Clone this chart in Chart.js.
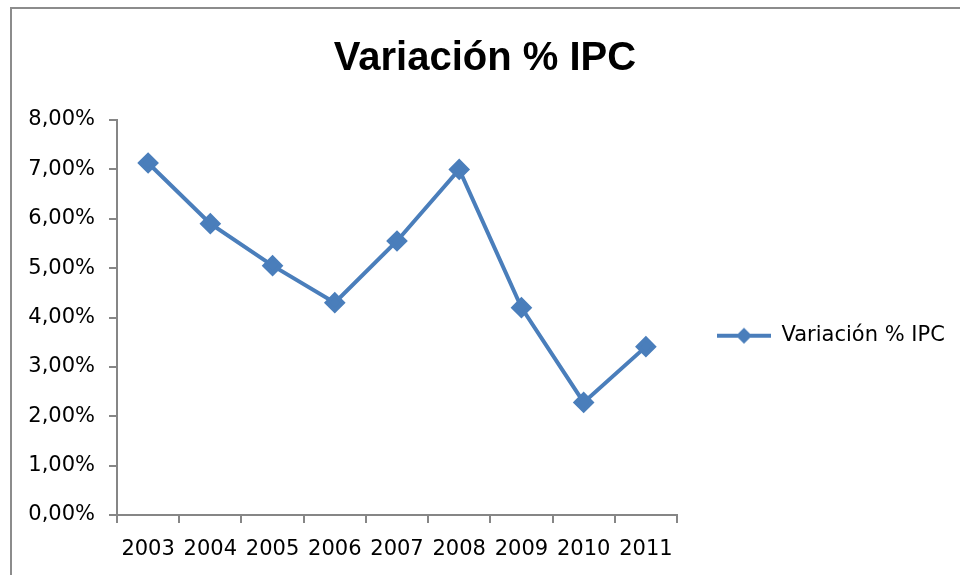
<!DOCTYPE html>
<html>
<head>
<meta charset="utf-8">
<script src="https://cdn.jsdelivr.net/npm/chart.js"></script>
<style>
  body { margin: 0; background: #fff; }
  #wrap { position: absolute; left: 0; top: 0; width: 960px; height: 575px; overflow: hidden; }
  #frame { position: absolute; left: 10px; top: 7px; width: 1000px; height: 600px;
           border-left: 2px solid #8c8c8c; border-top: 2px solid #8c8c8c; }
  canvas { position: absolute; left: 0; top: 0; }
</style>
</head>
<body>
<div id="wrap">
  <div id="frame"></div>
  <canvas id="chart1" width="960" height="575"></canvas>
</div>
<script>
// datos del grafico
const years = ['2003', '2004', '2005', '2006', '2007', '2008', '2009', '2010', '2011'];
const ipc = [7.13, 5.90, 5.05, 4.30, 5.55, 7.00, 4.20, 2.28, 3.41];
const yTicks = [0, 1, 2, 3, 4, 5, 6, 7, 8];

const azul = '#4a7ebb';
const gris = '#868686';

// icono de leyenda: linea + rombo (estilo excel)
const icon = document.createElement('canvas');
icon.width = 54; icon.height = 18;
{
  const c = icon.getContext('2d');
  c.strokeStyle = azul; c.lineWidth = 4;
  c.beginPath(); c.moveTo(0, 9); c.lineTo(54, 9); c.stroke();
  c.fillStyle = azul;
  c.beginPath(); c.moveTo(27, 1); c.lineTo(35, 9); c.lineTo(27, 17); c.lineTo(19, 9); c.closePath(); c.fill();
}

// ancho fijo para la leyenda (el area del grafico termina en x=677)
const anchoLeyenda = {
  id: 'anchoLeyenda',
  afterInit: function (chart) {
    const lg = chart.legend;
    const fit = lg.fit;
    lg.fit = function () { fit.call(this); this.width = 283; };
  }
};

//chart1
{
const data = {
  labels: years,
  datasets: [{
    label: 'Variación % IPC',
    data: ipc,
    borderColor: azul,
    backgroundColor: azul,
    borderWidth: 4,
    pointStyle: 'rectRot',
    pointRadius: 8,
    pointHoverRadius: 8,
    tension: 0,
    fill: false
  }]
};

const config = {
  type: 'line',
  data: data,
  plugins: [anchoLeyenda],
  options: {
    responsive: false,
    animation: false,
    layout: { padding: { left: 10, right: 0, top: 0, bottom: 0 } },
    plugins: {
      title: {
        display: true,
        text: 'Variación % IPC',
        color: '#000',
        font: { family: 'Liberation Sans', size: 40, weight: 'bold' },
        padding: { top: 35, bottom: 37 }
      },
      legend: {
        position: 'right',
        fullSize: false,
        title: { display: true, text: '', font: { size: 12 }, padding: { top: 0, bottom: 22 } },
        labels: {
          color: '#000',
          font: { family: 'DejaVu Sans', size: 21 },
          usePointStyle: true,
          pointStyleWidth: 54,
          boxHeight: 18,
          padding: 40,
          generateLabels: function (chart) {
            return [{
              text: chart.data.datasets[0].label,
              fontColor: '#000',
              pointStyle: icon,
              fillStyle: azul,
              strokeStyle: azul,
              lineWidth: 0,
              datasetIndex: 0
            }];
          }
        }
      },
      tooltip: { enabled: false }
    },
    scales: {
      x: {
        offset: true,
        afterFit: function (s) { s.height = 60; },
        grid: { offset: true, drawOnChartArea: false, color: gris, tickLength: 8, lineWidth: 2 },
        border: { color: gris, width: 2 },
        ticks: {
          color: '#000',
          font: { family: 'DejaVu Sans', size: 21 },
          maxRotation: 0,
          autoSkip: false,
          padding: 14
        }
      },
      y: {
        min: 0,
        max: 8,
        afterBuildTicks: function (s) { s.ticks = yTicks.map(v => ({ value: v })); },
        afterFit: function (s) { s.width = 107; },
        grid: { drawOnChartArea: false, color: gris, tickLength: 8, lineWidth: 2 },
        border: { color: gris, width: 2 },
        ticks: {
          color: '#000',
          font: { family: 'DejaVu Sans', size: 21 },
          padding: 14,
          callback: function (v) { return v.toFixed(2).replace('.', ',') + '%'; }
        }
      }
    }
  }
};

const myChart = new Chart(
  document.getElementById('chart1'),
  config
);
}
</script>
</body>
</html>
